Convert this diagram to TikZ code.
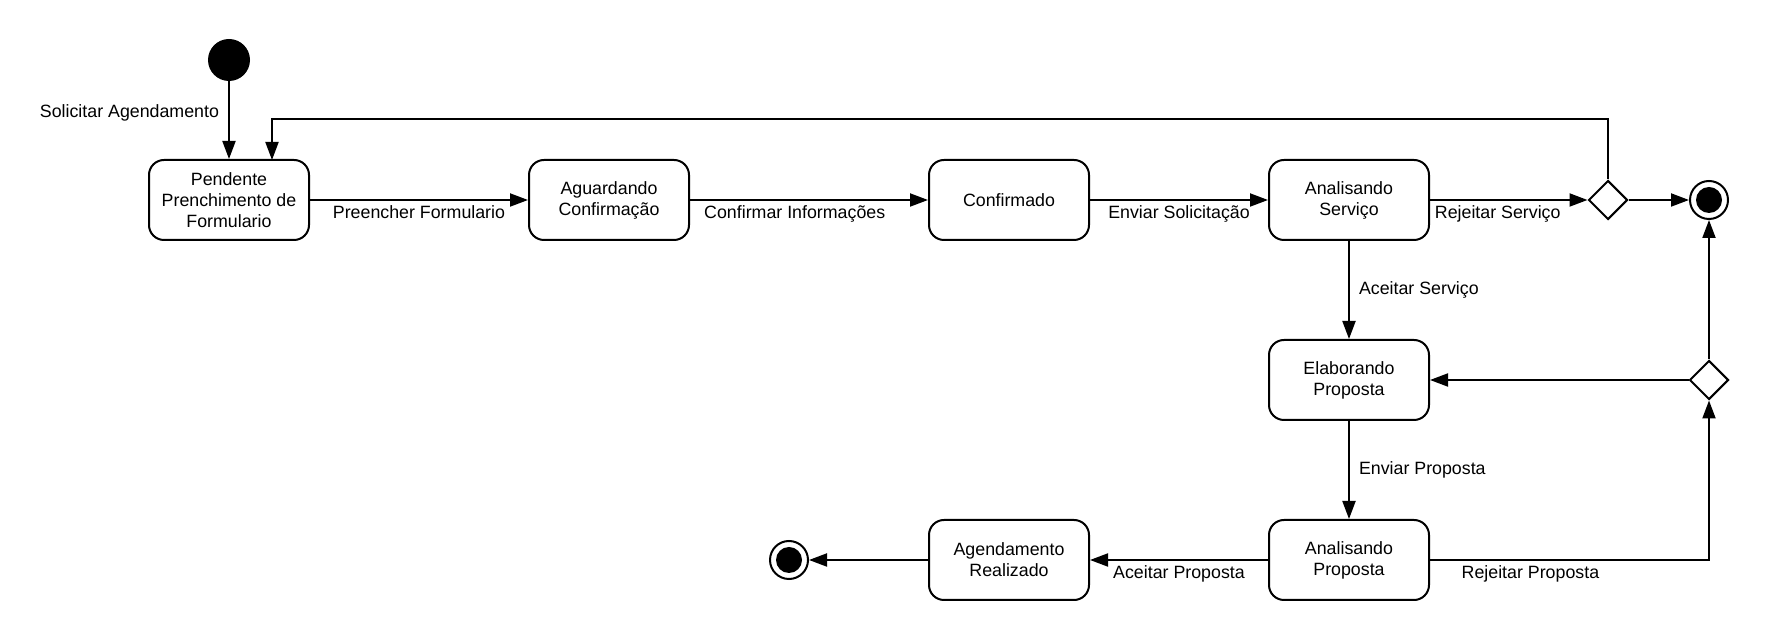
\documentclass[tikz,border=0pt]{standalone}
\usepackage{fontspec}
\setmainfont{Liberation Sans}
\usepackage{tikz}
\usetikzlibrary{arrows.meta,shapes.geometric}
\definecolor{ink}{HTML}{000000}
\tikzset{
  box/.style={draw=ink, line width=1pt, rounded corners=7.5pt, minimum width=80pt, minimum height=40pt, align=center, inner sep=2pt, font=\fontsize{8.9pt}{10.5pt}\selectfont},
  lab/.style={text=ink, inner sep=2pt, font=\fontsize{8.9pt}{10.5pt}\selectfont},
  trans/.style={draw=ink, line width=1pt, -{Triangle[length=9pt,width=6.5pt]}},
  ini/.style={circle, fill=ink, minimum size=21pt, inner sep=0pt},
  fin/.style={circle, draw=ink, line width=1pt, minimum size=19pt, inner sep=0pt,
    path picture={\fill[ink] (path picture bounding box.center) circle (6.5pt);}},
  choice/.style={diamond, aspect=1, draw=ink, line width=1pt, minimum width=19.5pt, minimum height=19.5pt, inner sep=0pt},
}
\begin{document}
\begin{tikzpicture}[x=0.5pt, y=-0.5pt]
  \useasboundingbox (0,0) rectangle (1769,640);

  % upper row
  \node[ini] (ini) at (229,60) {};
  \node[box] (pf) at (229,200) {Pendente\\Prenchimento de\\Formulario};
  \node[box] (ac) at (609,200) {Aguardando\\Confirmação};
  \node[box] (cf) at (1009,200) {Confirmado};
  \node[box] (as) at (1349,200) {Analisando\\Serviço};
  \node[choice] (d1) at (1608,200) {};
  \node[fin] (fin1) at (1709,200) {};

  % right column and lower row
  \node[box] (ep) at (1349,380) {Elaborando\\Proposta};
  \node[choice] (d2) at (1709,380) {};
  \node[box] (ap) at (1349,560) {Analisando\\Proposta};
  \node[box] (ar) at (1009,560) {Agendamento\\Realizado};
  \node[fin] (fin2) at (789,560) {};

  \coordinate (top) at (272,119);    % loop back
  \coordinate (loopin) at (272,160); % top edge of pf

  \draw[trans] (ini) -- node[lab, left=2.5pt, pos=0.4] {Solicitar Agendamento} (pf);
  \draw[trans] (pf) -- node[lab, below=0.5pt] {Preencher Formulario} (ac);
  \draw[trans] (ac) -- node[lab, below=0.5pt, pos=0.44] {Confirmar Informações} (cf);
  \draw[trans] (cf) -- node[lab, below=0.5pt] {Enviar Solicitação} (as);
  \draw[trans] (as) -- node[lab, below=0.5pt, pos=0.43] {Rejeitar Serviço} (d1);
  \draw[trans] (d1) -- (fin1);
  \draw[trans] (d1.north) |- (top) -- (loopin);

  \draw[trans] (as) -- node[lab, right=2.5pt] {Aceitar Serviço} (ep);
  \draw[trans] (d2) -- (ep);
  \draw[trans] (d2) -- (fin1);
  \draw[trans] (ep) -- node[lab, right=2.5pt] {Enviar Proposta} (ap);
  \draw[trans] (ap) -| node[lab, below=0.5pt, pos=0.18] {Rejeitar Proposta} (d2);
  \draw[trans] (ap) -- node[lab, below=0.5pt] {Aceitar Proposta} (ar);
  \draw[trans] (ar) -- (fin2);
\end{tikzpicture}
\end{document}
